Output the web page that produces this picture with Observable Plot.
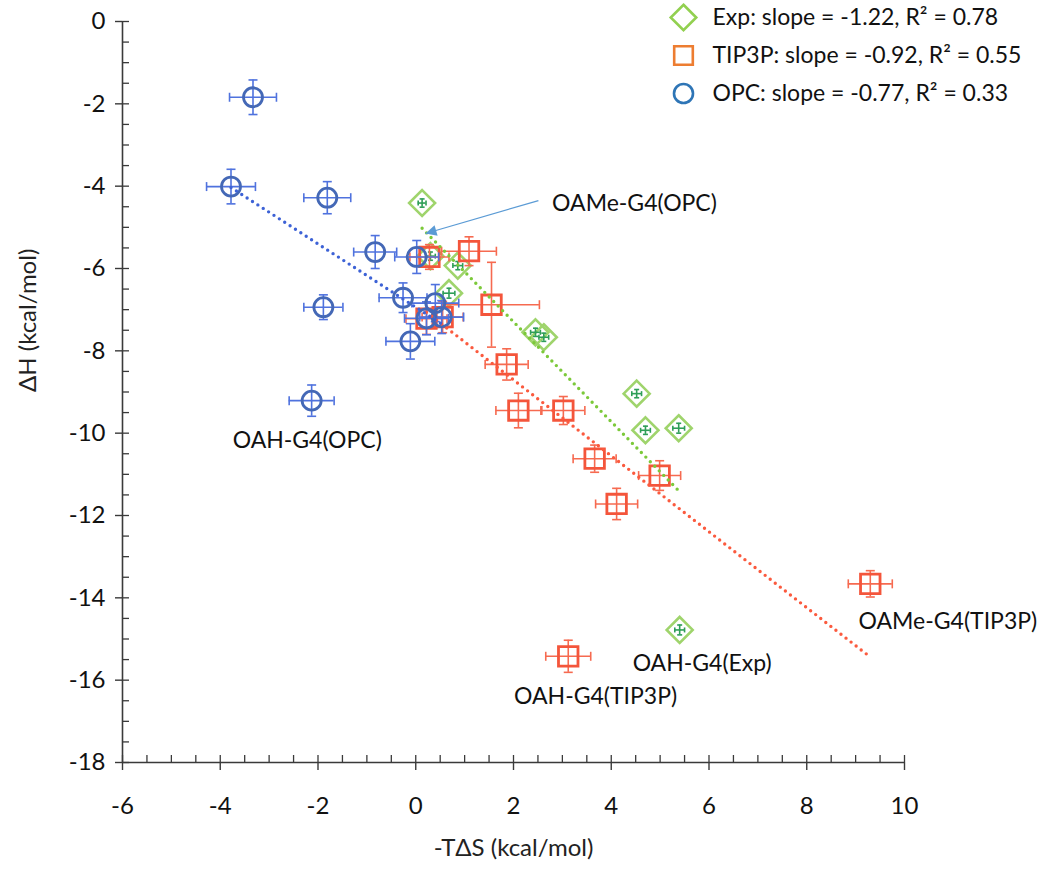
<!DOCTYPE html>
<html><head><meta charset="utf-8">
<script src="https://cdn.jsdelivr.net/npm/d3@7"></script>
<script src="https://cdn.jsdelivr.net/npm/@observablehq/plot@0.6"></script>
<style>
body{margin:0;background:#fff;}
#chart{width:1050px;height:875px;}
</style>
</head><body><div id="chart"></div>
<script>
// ---- data ----
const expX  = [0.13, 0.30, 0.86, 0.68, 2.45, 2.62, 4.52, 4.70, 5.38, 5.40];
const expY  = [-4.41, -5.70, -5.93, -6.60, -7.55, -7.67, -9.04, -9.93, -9.88, -14.78];
const expEx = [0.08, 0.10, 0.10, 0.12, 0.10, 0.10, 0.10, 0.10, 0.12, 0.10];
const expEy = [0.10, 0.10, 0.10, 0.12, 0.10, 0.10, 0.10, 0.10, 0.12, 0.12];

const tipX  = [0.28, 1.09, 1.55, 0.22, 0.55, 1.86, 2.10, 3.02, 3.66, 4.99, 4.11, 9.30, 3.12];
const tipY  = [-5.72, -5.58, -6.88, -7.22, -7.18, -8.33, -9.45, -9.45, -10.62, -11.03, -11.72, -13.66, -15.42];
const tipEx = [0.40, 0.56, 0.98, 0.42, 0.42, 0.44, 0.46, 0.44, 0.44, 0.43, 0.43, 0.45, 0.46];
const tipEy = [0.30, 0.35, 1.03, 0.38, 0.38, 0.38, 0.42, 0.34, 0.33, 0.36, 0.38, 0.32, 0.39];

const opcX  = [-3.33, -3.78, -1.81, -0.83, 0.02, -1.89, -0.26, 0.40, 0.22, 0.53, -0.11, -2.13];
const opcY  = [-1.84, -4.01, -4.28, -5.60, -5.72, -6.94, -6.71, -6.84, -7.21, -7.18, -7.77, -9.21];
const opcEx = [0.48, 0.50, 0.48, 0.44, 0.45, 0.40, 0.49, 0.48, 0.45, 0.45, 0.50, 0.46];
const opcEy = [0.42, 0.42, 0.39, 0.40, 0.40, 0.30, 0.36, 0.45, 0.40, 0.40, 0.43, 0.38];

const legendLabels = ["Exp: slope = -1.22, R\u00B2 = 0.78", "TIP3P: slope = -0.92, R\u00B2 = 0.55", "OPC: slope = -0.77, R\u00B2 = 0.33"];

const annoText = ["OAH-G4(OPC)", "OAH-G4(TIP3P)", "OAH-G4(Exp)", "OAMe-G4(TIP3P)", "OAMe-G4(OPC)"];
const annoX    = [-2.22, 3.68, 5.86, 9.06, 2.79];
const annoY    = [-10.18, -16.41, -15.59, -14.59, -4.42];
const arrowFrom = [2.51, -4.35];
const arrowTo   = [0.20, -5.15];

const xMajor = d3.range(-6, 10.01, 2);
const xMinor = d3.range(-6, 10.01, 0.5);
const yMajor = d3.range(-18, 0.01, 2);
const yMinor = d3.range(-18, 0.01, 0.5);
const xLabel = "-T\u0394S (kcal/mol)";
const yLabel = "\u0394H (kcal/mol)";

// ---- build ----
const rows = (xs, ys, exs, eys) => xs.map((x, i) => ({x, y: ys[i], ex: exs[i], ey: eys[i]}));
const expRows = rows(expX, expY, expEx, expEy);
const tipRows = rows(tipX, tipY, tipEx, tipEy);
const opcRows = rows(opcX, opcY, opcEx, opcEy);
const annos = annoText.map((t, i) => ({t, x: annoX[i], y: annoY[i]}));

const vbar = {draw(ctx, size){const r = Math.sqrt(size/Math.PI); ctx.moveTo(0,-r); ctx.lineTo(0,r);}};
const hbar = {draw(ctx, size){const r = Math.sqrt(size/Math.PI); ctx.moveTo(-r,0); ctx.lineTo(r,0);}};
// filled arrow head whose tip sits at the origin, pointing "up" before rotation
const arrowHead = {draw(ctx, size){const r = Math.sqrt(size/Math.PI); ctx.moveTo(0,0); ctx.lineTo(r*0.55, r*1.1); ctx.lineTo(-r*0.55, r*1.1); ctx.closePath();}};

function errorBars(data, color, cap, sw) {
  const o = {stroke: color, strokeWidth: sw};
  return [
    Plot.ruleY(data, {y: "y", x1: d => d.x - d.ex, x2: d => d.x + d.ex, ...o}),
    Plot.ruleX(data, {x: "x", y1: d => d.y - d.ey, y2: d => d.y + d.ey, ...o}),
    Plot.dot(data, {x: d => d.x - d.ex, y: "y", symbol: vbar, r: cap, ...o}),
    Plot.dot(data, {x: d => d.x + d.ex, y: "y", symbol: vbar, r: cap, ...o}),
    Plot.dot(data, {x: "x", y: d => d.y - d.ey, symbol: hbar, r: cap, ...o}),
    Plot.dot(data, {x: "x", y: d => d.y + d.ey, symbol: hbar, r: cap, ...o})
  ];
}

const W = 1050, H = 875, mL = 122, mR = 146, mT = 21, mB = 113;
const frameH = H - mT - mB, frameW = W - mL - mR;
const axisColor = "#3a3a3a";
const font = "Lato, 'Open Sans', sans-serif";

const legendMarks = [];
const legSym = ["diamond2", "square", "circle"];
const legCol = ["#92d050", "#ed7d31", "#2e75b6"];
const legR = [11.5, 10.5, 9.5];
const legDy = [-4, 34, 72];
legendLabels.forEach((lab, i) => {
  legendMarks.push(Plot.dot([0], {frameAnchor: "top-left", dx: 561, dy: legDy[i], symbol: legSym[i], r: legR[i], stroke: legCol[i], strokeWidth: 2.6, fill: "none"}));
  legendMarks.push(Plot.text([lab], {frameAnchor: "top-left", dx: 590, dy: legDy[i], text: d => d, textAnchor: "start", fontSize: 23, fill: "#111", lineAnchor: "middle"}));
});

const dotted = {strokeWidth: 3.4, strokeDasharray: "0,6.4", strokeLinecap: "round", ci: 0};

// arrow head orientation (screen angle of the arrow direction)
const arrowAngle = 253.7;

const chart = Plot.plot({
  width: W, height: H,
  marginLeft: mL, marginRight: mR, marginTop: mT, marginBottom: mB,
  x: {domain: [-6, 10]},
  y: {domain: [-18, 0]},
  style: {fontFamily: font, fontSize: "24px", color: "#222", background: "#fff", overflow: "visible"},
  marks: [
    // axes
    Plot.axisX({ticks: xMajor, tickSize: 8, tickPadding: 26, tickFormat: d => String(d), label: null, stroke: axisColor, strokeWidth: 1.4, fontSize: 24, fill: "#111"}),
    Plot.axisY({ticks: yMajor, tickSize: 7, tickPadding: 10, tickFormat: d => String(d), label: null, stroke: axisColor, strokeWidth: 1.4, fontSize: 24, fill: "#111"}),
    Plot.tickX(xMinor, {x: d => d, insetTop: frameH - 7, stroke: axisColor, strokeWidth: 1.3}),
    Plot.tickY(yMinor, {y: d => d, insetRight: frameW - 7, stroke: axisColor, strokeWidth: 1.3}),
    Plot.ruleY([-18], {stroke: axisColor, strokeWidth: 1.6}),
    Plot.ruleX([-6], {stroke: axisColor, strokeWidth: 1.6}),
    Plot.text([xLabel], {frameAnchor: "bottom", dy: 93, text: d => d, fontSize: 24, fill: "#222"}),
    Plot.text([yLabel], {frameAnchor: "left", dx: -94, rotate: -90, text: d => d, fontSize: 24, fill: "#222"}),

    // Exp
    Plot.dot(expRows, {x: "x", y: "y", symbol: "diamond2", r: 11.7, stroke: "#9fd46c", strokeWidth: 2.6, fill: "none"}),
    ...errorBars(expRows, "#2e9e57", 2.5, 1.6),
    // TIP3P
    ...errorBars(tipRows, "#f66a50", 4.5, 1.6),
    Plot.dot(tipRows, {x: "x", y: "y", symbol: "square", r: 11, stroke: "#f4553b", strokeWidth: 2.8, fill: "none"}),
    // OPC
    ...errorBars(opcRows, "#4f72de", 4.5, 1.6),
    Plot.dot(opcRows, {x: "x", y: "y", symbol: "circle", r: 9.5, stroke: "#4468b6", strokeWidth: 2.8, fill: "none"}),

    // trend lines
    Plot.linearRegressionY(expRows, {x: "x", y: "y", stroke: "#7cc93a", ...dotted}),
    Plot.linearRegressionY(tipRows, {x: "x", y: "y", stroke: "#fb5a3e", ...dotted}),
    Plot.linearRegressionY(opcRows, {x: "x", y: "y", stroke: "#3d62d6", ...dotted}),

    // annotations
    Plot.text(annos.slice(0, 3), {x: "x", y: "y", text: "t", textAnchor: "middle", fontSize: 23, fill: "#111"}),
    Plot.text(annos.slice(3), {x: "x", y: "y", text: "t", textAnchor: "start", fontSize: 23, fill: "#111"}),
    Plot.link([0], {x1: arrowFrom[0], y1: arrowFrom[1], x2: arrowTo[0], y2: arrowTo[1], stroke: "#5b9bd5", strokeWidth: 1.2}),
    Plot.dot([0], {x: arrowTo[0], y: arrowTo[1], symbol: arrowHead, r: 10, fill: "#5b9bd5", stroke: "none", rotate: arrowAngle}),

    ...legendMarks
  ]
});
document.getElementById("chart").appendChild(chart);
</script>
</body></html>
